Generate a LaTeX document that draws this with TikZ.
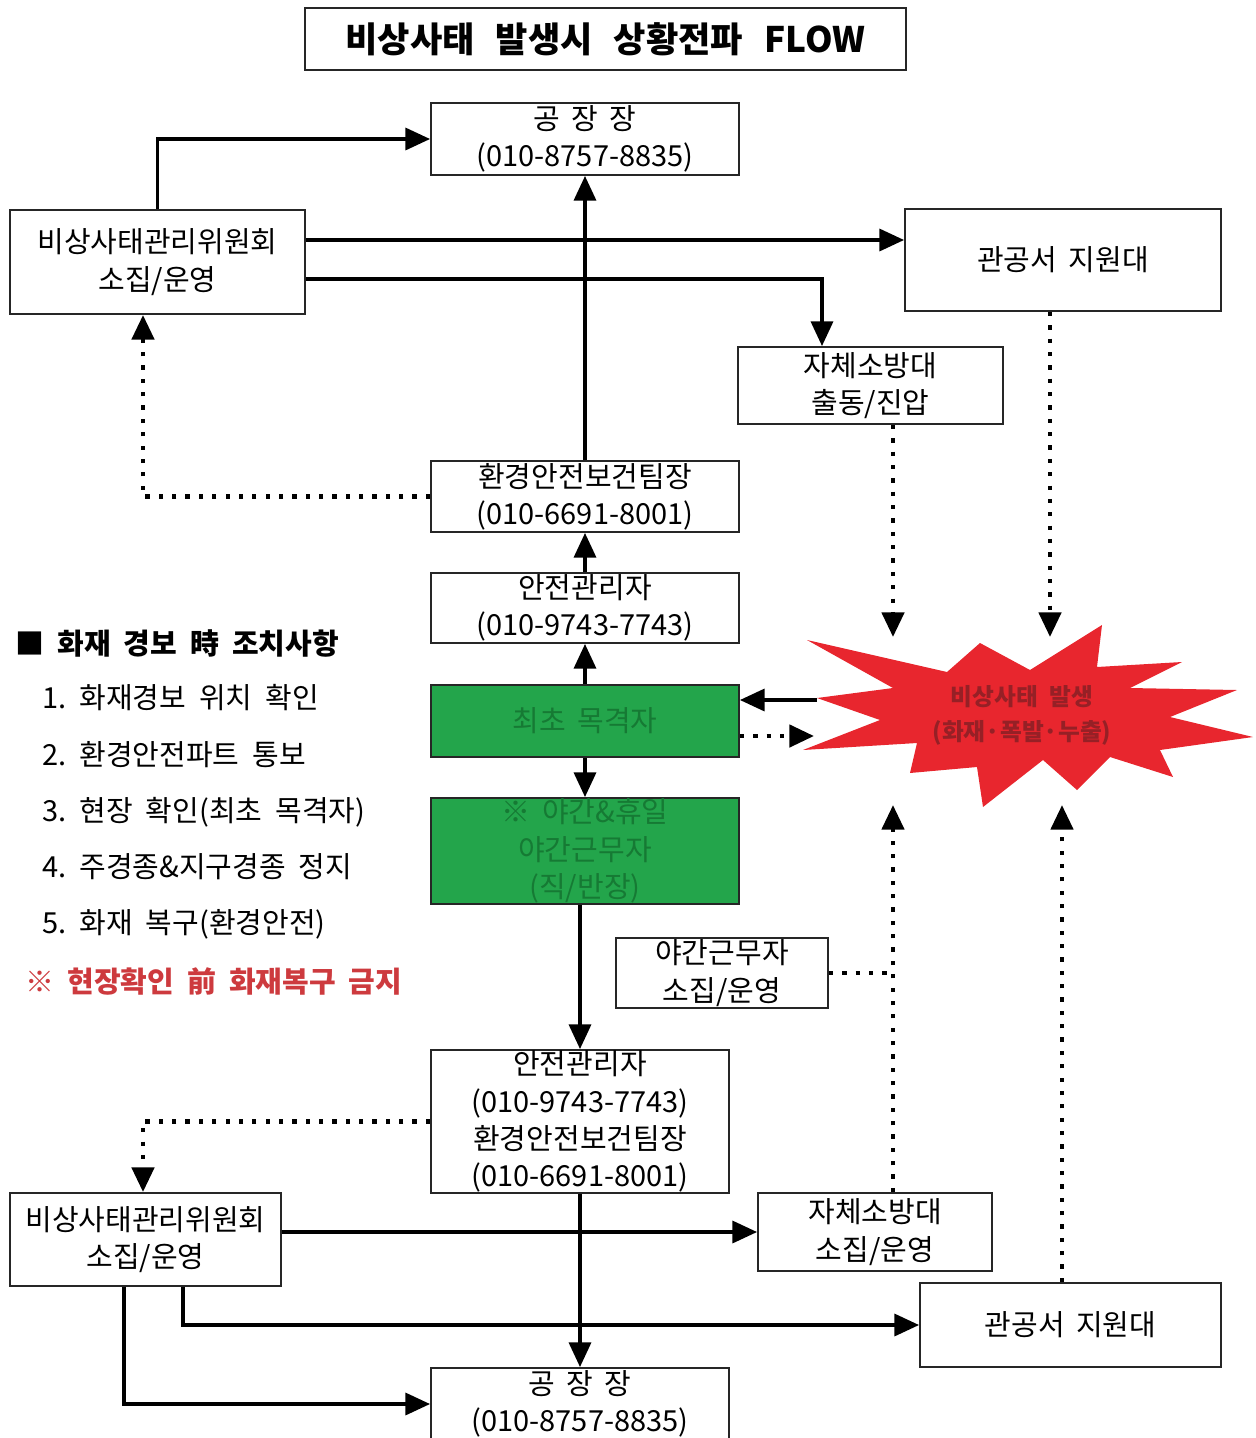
\documentclass[tikz,border=0pt]{standalone}
\usepackage{fontspec}
\setmainfont{Noto Sans CJK KR}
\usetikzlibrary{arrows.meta}

\definecolor{boxgreen}{RGB}{35,165,75}
\definecolor{greentext}{RGB}{22,122,52}
\definecolor{firered}{RGB}{232,38,46}
\definecolor{firetext}{RGB}{150,32,38}
\definecolor{warnred}{RGB}{205,58,62}

\newcommand\boxfont{\fontsize{16.5}{21.2}\selectfont\spaceskip=0.4em\relax}
\newcommand\itemfont{\fontsize{16.5}{19}\selectfont\spaceskip=0.45em\relax}
\newcommand\titlefont{\fontsize{20}{24}\selectfont\bfseries\spaceskip=0.6em\relax}
\newcommand\firefont{\fontsize{13.5}{20}\selectfont\bfseries\spaceskip=0.5em\relax}

\begin{document}
\begin{tikzpicture}[x=0.02cm, y=-0.02cm,
  box/.style={draw=black!85, line width=1.1pt, align=center, font=\boxfont, inner sep=0pt},
  greenbox/.style={box, fill=boxgreen, text=greentext},
  arr/.style={line width=1.9pt, -{Triangle[length=14pt,width=12.5pt]}},
  dotline/.style={line width=2.6pt, dash pattern=on 2.4pt off 5.2pt},
  dot/.style={dotline, -{Triangle[length=14pt,width=12.5pt]}},
  item/.style={anchor=west, font=\itemfont, inner sep=0pt}]
\useasboundingbox (0,0) rectangle (1256,1438);

% title
\node[box, font=\titlefont, minimum width=12.02cm, minimum height=1.24cm] (title) at (605.5,39) {비상사태 발생시 상황전파 FLOW};

% upper part
\node[box, minimum width=6.16cm, minimum height=1.44cm] (gm1) at (585,139) {공 장 장\\(010-8757-8835)};
\node[box, minimum width=5.9cm, minimum height=2.08cm] (com1) at (157.5,262) {비상사태관리위원회\\소집/운영};
\node[box, minimum width=6.32cm, minimum height=2.04cm] (gw1) at (1063,260) {관공서 지원대};
\node[box, minimum width=5.3cm, minimum height=1.54cm] (fb1) at (870.5,385.5) {자체소방대\\출동/진압};
\node[box, minimum width=6.16cm, minimum height=1.42cm] (env1) at (585,496.5) {환경안전보건팀장\\(010-6691-8001)};
\node[box, minimum width=6.16cm, minimum height=1.4cm] (sm1) at (585,608) {안전관리자\\(010-9743-7743)};
\node[greenbox, minimum width=6.16cm, minimum height=1.44cm] (wit) at (585,721) {최초 목격자};
\node[greenbox, minimum width=6.16cm, minimum height=2.12cm] (night) at (585,851) {※ 야간\&휴일\\야간근무자\\(직/반장)};

% lower part
\node[box, minimum width=4.24cm, minimum height=1.4cm] (nw) at (722,973) {야간근무자\\소집/운영};
\node[box, minimum width=5.96cm, minimum height=2.86cm] (sm2) at (580,1121.5) {안전관리자\\(010-9743-7743)\\환경안전보건팀장\\(010-6691-8001)};
\node[box, minimum width=5.42cm, minimum height=1.86cm] (com2) at (145.5,1239.5) {비상사태관리위원회\\소집/운영};
\node[box, minimum width=4.68cm, minimum height=1.56cm] (fb2) at (875,1232) {자체소방대\\소집/운영};
\node[box, minimum width=6.02cm, minimum height=1.68cm] (gw2) at (1070.5,1325) {관공서 지원대};
\node[box, minimum width=5.96cm, minimum height=1.44cm] (gm2) at (580,1404) {공 장 장\\(010-8757-8835)};

% emergency burst
\fill[firered] (807,640) -- (947,672) -- (980,643) -- (1030,670) -- (1102,625) -- (1097,667)
  -- (1182,662) -- (1130,688) -- (1237,690) -- (1170,717) -- (1253,737) -- (1160,750)
  -- (1173,777) -- (1110,757) -- (1077,790) -- (1043,760) -- (983,807) -- (977,767)
  -- (910,773) -- (917,743) -- (803,750) -- (880,720) -- (817,698) -- (893,688) -- cycle;
\node[align=center, text=firetext, font=\firefont] (fire) at (1022,715) {비상사태 발생\\(화재·폭발·누출)};

% routing points
\coordinate (c1) at (143,0);
\coordinate (c2) at (822,0);
\coordinate (c4) at (183,0);
\coordinate (c5) at (124,0);
\coordinate (r1) at (0,240);
\coordinate (r2) at (0,279);
\coordinate (fw) at (817,700);
\coordinate (fw2) at (814,736);
\coordinate (fnw) at (893,637);
\coordinate (fne) at (1050,637);
\coordinate (fsw) at (893,805);
\coordinate (fse) at (1062,805);

% solid connectors
\draw[arr] (com1.north) |- (gm1.west);
\draw[arr] (com1.east |- r1) -- (gw1.west |- r1);
\draw[arr] (com1.east |- r2) -| (fb1.north -| c2);
\draw[arr] (env1) -- (gm1);
\draw[arr] (sm1) -- (env1);
\draw[arr] (wit) -- (sm1);
\draw[arr] (wit) -- (night);
\draw[arr] (fw) -- (wit.east |- fw);
\draw[arr] (night.south -| sm2.north) -- (sm2.north);
\draw[arr] (sm2) -- (gm2);
\draw[arr] (com2.east |- fb2.west) -- (fb2.west);
\draw[arr] (com2.south -| c4) |- (gw2.west);
\draw[arr] (com2.south -| c5) |- (gm2.west);

% dotted connectors
\draw[dot] (env1.west) -| (com1.south -| c1);
\draw[dot] (wit.east |- fw2) -- (fw2);
\draw[dot] (fb1.south -| fnw) -- (fnw);
\draw[dot] (gw1.south -| fne) -- (fne);
\draw[dot] (fb2.north -| fsw) -- (fsw);
\draw[dotline] (nw.east) -- (nw.east -| fsw);
\draw[dot] (gw2.north -| fse) -- (fse);
\draw[dot] (sm2.west) -| (com2.north -| c1);

% fire alarm steps
\node[item, font=\itemfont\bfseries] (steps) at (15,643) {■ 화재 경보 時 조치사항};
\node[item] (step1) at (42,698) {1.\ 화재경보 위치 확인};
\node[item] (step2) at (42,755) {2.\ 환경안전파트 통보};
\node[item] (step3) at (42,812) {3.\ 현장 확인(최초 목격자)};
\node[item] (step4) at (42,867) {4.\ 주경종\&지구경종 정지};
\node[item] (step5) at (42,924) {5.\ 화재 복구(환경안전)};
\node[item, font=\itemfont\bfseries, text=warnred] (warn) at (25,981) {※ 현장확인 前 화재복구 금지};
\end{tikzpicture}
\end{document}
